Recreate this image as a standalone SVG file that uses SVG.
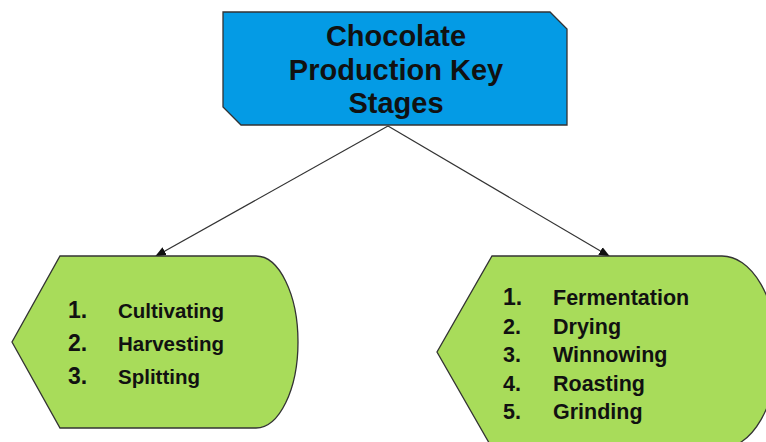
<svg xmlns="http://www.w3.org/2000/svg" width="766" height="442" viewBox="0 0 766 442">
<defs>
<style>
text{font-family:"Liberation Sans",Arial,sans-serif;font-weight:bold;fill:#111}
.title{font-size:29px}
.num{font-size:23px}
.lw{font-size:20.5px}
.rw{font-size:21.5px}
.shape{stroke:#333;stroke-width:1.3}
.conn{stroke:#333;stroke-width:1.2;fill:none}
</style>
<marker id="arr" viewBox="0 0 10 10" refX="9" refY="5" markerWidth="11" markerHeight="11" markerUnits="userSpaceOnUse" orient="auto">
<path d="M0,1 L10,5 L0,9 Z" fill="#111"/>
</marker>
</defs>
<rect width="766" height="442" fill="#fff"/>
<g id="connectors">
<line class="conn" x1="388" y1="126" x2="156" y2="256" marker-end="url(#arr)"/>
<line class="conn" x1="388" y1="126" x2="609" y2="256" marker-end="url(#arr)"/>
</g>
<g id="title">
<path class="shape" d="M223,12 L550,12 L567,29 L567,125 L241,125 L223,107 Z" fill="#049be5"/>
<text class="title" x="396" y="46" text-anchor="middle">Chocolate</text>
<text class="title" x="396" y="80" text-anchor="middle">Production Key</text>
<text class="title" x="396" y="113" text-anchor="middle">Stages</text>
</g>
<g id="left">
<path class="shape" d="M60,256 L256,256 A42,86 0 0 1 256,428 L60,428 L12,342 Z" fill="#a8dc5a"/>
<text class="num" x="68" y="318">1.</text>
<text class="lw" x="118" y="318">Cultivating</text>
<text class="num" x="68" y="351">2.</text>
<text class="lw" x="118" y="351">Harvesting</text>
<text class="num" x="68" y="384">3.</text>
<text class="lw" x="118" y="384">Splitting</text>
</g>
<g id="right">
<path class="shape" d="M492,256 L722,256 A55,96 0 0 1 722,448 L492,448 L437,352 Z" fill="#a8dc5a"/>
<text class="num" x="503" y="305">1.</text>
<text class="rw" x="553" y="305">Fermentation</text>
<text class="rw" x="503" y="334">2.</text>
<text class="rw" x="553" y="334">Drying</text>
<text class="rw" x="503" y="362">3.</text>
<text class="rw" x="553" y="362">Winnowing</text>
<text class="rw" x="503" y="391">4.</text>
<text class="rw" x="553" y="391">Roasting</text>
<text class="rw" x="503" y="419">5.</text>
<text class="rw" x="553" y="419">Grinding</text>
</g>
</svg>
